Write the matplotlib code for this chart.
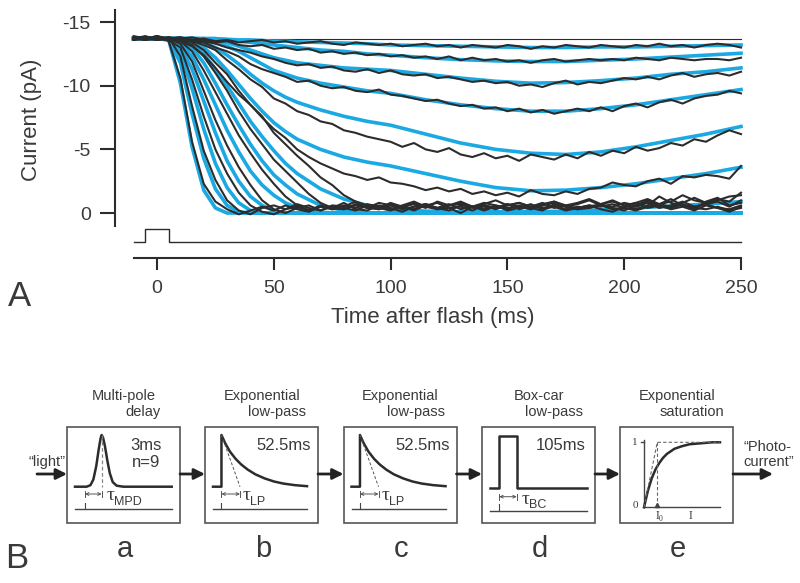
import matplotlib.pyplot as plt
from matplotlib.patches import Rectangle

plt.rcParams['font.family'] = ['Liberation Sans', 'DejaVu Sans']

# ---------------- data (panel A) ----------------
dark_current = -13.7          # pA, baseline before flash
flash_t = [-10, -5, -5, 5, 5, 250]
flash_on = [0, 0, 1, 1, 0, 0]

# model fits (blue), brightest flash first
t_fit = [-10, 0, 5, 10, 15, 20, 25, 30, 35, 40, 45, 50, 55, 60, 70, 80, 90, 100,
         115, 130, 145, 160, 175, 190, 205, 220, 235, 250]
fit_1 = [-13.7, -13.7, -13.6, -10.2, -5.2, -1.8, -0.4, 0.0, 0.0, 0.0,
         0.0, 0.0, 0.0, 0.0, 0.0, 0.0, 0.0, 0.0, 0.0, 0.0,
         0.0, 0.0, 0.0, 0.0, 0.0, 0.0, 0.0, 0.0]
fit_2 = [-13.7, -13.7, -13.6, -11.8, -7.8, -4.3, -1.9, -0.6, -0.1, 0.0,
         0.0, 0.0, 0.0, 0.0, 0.0, 0.0, 0.0, 0.0, 0.0, 0.0,
         0.0, 0.0, 0.0, 0.0, 0.0, 0.0, 0.0, 0.0]
fit_3 = [-13.7, -13.7, -13.7, -12.6, -9.8, -6.6, -3.9, -2.0, -0.8, -0.2,
         0.0, 0.0, 0.0, 0.0, 0.0, 0.0, 0.0, 0.0, 0.0, 0.0,
         0.0, 0.0, 0.0, 0.0, 0.0, 0.0, 0.0, 0.0]
fit_4 = [-13.7, -13.7, -13.7, -13.1, -11.3, -8.8, -6.3, -4.1, -2.5, -1.3,
         -0.6, -0.2, 0.0, 0.0, 0.0, 0.0, 0.0, 0.0, 0.0, 0.0,
         0.0, 0.0, 0.0, 0.0, 0.0, 0.0, 0.0, 0.0]
fit_5 = [-13.7, -13.7, -13.7, -13.4, -12.3, -10.5, -8.5, -6.5, -4.8, -3.3,
         -2.2, -1.4, -0.8, -0.4, -0.05, 0.0, 0.0, 0.0, 0.0, 0.0,
         0.0, 0.0, 0.0, 0.0, 0.0, 0.0, 0.0, 0.0]
fit_6 = [-13.7, -13.7, -13.7, -13.6, -13.0, -11.8, -10.2, -8.5, -6.9, -5.4,
         -4.1, -3.0, -2.2, -1.5, -0.6, -0.2, 0.0, 0.0, 0.0, 0.0,
         0.0, 0.0, 0.0, 0.0, 0.0, 0.0, 0.0, 0.0]
fit_7 = [-13.7, -13.7, -13.7, -13.6, -13.3, -12.5, -11.3, -10.0, -8.6, -7.2,
         -6.0, -4.9, -3.9, -3.1, -1.9, -1.1, -0.6, -0.3, -0.15, -0.1,
         -0.1, -0.1, -0.15, -0.25, -0.4, -0.55, -0.7, -0.9]
fit_8 = [-13.7, -13.7, -13.7, -13.7, -13.5, -13.0, -12.2, -11.2, -10.1, -9.0,
         -8.0, -7.1, -6.4, -5.8, -5.0, -4.4, -4.0, -3.7, -3.1, -2.5,
         -2.0, -1.75, -1.8, -2.0, -2.3, -2.7, -3.1, -3.6]
fit_9 = [-13.7, -13.7, -13.7, -13.7, -13.6, -13.4, -13.0, -12.4, -11.7, -10.9,
         -10.2, -9.6, -9.1, -8.7, -8.1, -7.6, -7.2, -6.9, -6.2, -5.5,
         -5.0, -4.7, -4.6, -4.8, -5.2, -5.7, -6.2, -6.8]
fit_10 = [-13.7, -13.7, -13.7, -13.7, -13.7, -13.6, -13.4, -13.1, -12.7, -12.2,
          -11.7, -11.2, -10.9, -10.6, -10.2, -9.9, -9.6, -9.4, -8.9, -8.5,
          -8.2, -8.0, -8.0, -8.2, -8.5, -8.9, -9.3, -9.7]
fit_11 = [-13.7, -13.7, -13.7, -13.7, -13.7, -13.7, -13.6, -13.4, -13.1, -12.8,
          -12.5, -12.2, -12.0, -11.8, -11.6, -11.4, -11.3, -11.2, -10.9, -10.6,
          -10.35, -10.2, -10.25, -10.4, -10.6, -10.9, -11.1, -11.4]
fit_12 = [-13.7, -13.7, -13.7, -13.7, -13.7, -13.7, -13.7, -13.6, -13.5, -13.4,
          -13.3, -13.2, -13.1, -13.0, -12.8, -12.7, -12.5, -12.4, -12.2, -12.05,
          -11.95, -11.9, -11.9, -12.0, -12.1, -12.25, -12.4, -12.55]
fit_13 = [-13.7, -13.7, -13.7, -13.7, -13.7, -13.7, -13.7, -13.65, -13.6, -13.6,
          -13.55, -13.5, -13.5, -13.45, -13.4, -13.35, -13.3, -13.2, -13.15, -13.1,
          -13.05, -13.0, -13.0, -13.05, -13.05, -13.1, -13.15, -13.2]

# recorded photocurrents (black), same order
t_rec = [-10, -5, 0, 5, 10, 15, 20, 25, 30, 35,
         40, 45, 50, 55, 60, 65, 70, 75, 80, 85,
         90, 95, 100, 105, 110, 115, 120, 125, 130, 135,
         140, 145, 150, 155, 160, 165, 170, 175, 180, 185,
         190, 195, 200, 205, 210, 215, 220, 225, 230, 235,
         240, 245, 250]
rec_1 = [-13.8, -13.6, -13.9, -13.5, -10.6, -5.6, -2.3, -0.9, -0.3, 0.1,
         -0.2, -0.5, -0.2, -0.6, -0.3, -0.1, -0.5, -0.4, -0.8, -0.3,
         -0.2, -0.6, -0.4, -0.1, -0.5, -0.7, -0.3, -0.4, 0.0, -0.5,
         -0.3, -0.6, -0.2, -0.4, -0.7, -0.3, -0.5, -0.2, -0.4, -0.6,
         -0.3, -0.1, -0.5, -0.8, -0.4, -0.6, -0.3, -0.5, -0.2, -0.6,
         -0.4, -0.1, -0.5]
rec_2 = [-13.7, -13.9, -13.6, -13.8, -12.3, -8.4, -4.9, -2.6, -1.0, -0.2,
         0.1, -0.4, -0.6, -0.3, -0.7, -0.4, -0.2, -0.6, -0.5, -0.9,
         -0.4, -0.3, -0.7, -0.5, -0.2, -0.6, -0.8, -0.4, -0.5, -0.2,
         -0.6, -0.4, -0.7, -0.3, -0.5, -0.8, -0.4, -0.6, -0.3, -0.5,
         -0.7, -0.4, -0.2, -0.6, -1.0, -0.5, -0.4, -0.7, -0.3, -0.9,
         -1.2, -0.6, -0.8]
rec_3 = [-13.6, -13.8, -13.7, -13.6, -13.0, -10.5, -7.6, -5.0, -3.1, -1.6,
         -0.6, -0.1, 0.1, -0.3, -0.5, -0.2, -0.6, -0.3, -0.4, -0.2,
         -0.6, -0.4, -0.2, -0.5, -0.3, -0.7, -0.4, -0.2, -0.6, -0.5,
         -0.2, -0.5, -0.3, -0.6, -0.4, -0.2, -0.7, -0.5, -0.3, -0.4,
         -0.6, -0.3, -0.4, -0.2, -0.5, -0.7, -1.1, -0.6, -0.4, -0.3,
         -0.5, -0.2, -0.4]
rec_4 = [-13.9, -13.7, -13.8, -13.7, -13.3, -11.9, -9.6, -7.3, -5.3, -3.6,
         -2.2, -1.0, -0.3, 0.0, -0.4, -0.6, -0.2, -0.5, -0.3, -0.7,
         -0.5, -0.3, -0.6, -0.4, -0.8, -0.5, -0.3, -0.6, -0.7, -0.4,
         -0.5, -0.3, -0.6, -0.8, -0.5, -0.4, -0.6, -0.3, -0.5, -0.4,
         -0.7, -1.0, -0.6, -0.5, -0.8, -0.4, -0.6, -0.9, -0.5, -0.7,
         -0.4, -0.3, -0.6]
rec_5 = [-13.7, -13.8, -13.6, -13.7, -13.5, -12.7, -11.2, -9.5, -7.8, -6.1,
         -4.7, -3.4, -2.3, -1.3, -0.6, -0.2, -0.5, -0.3, -0.6, -0.4,
         -0.7, -0.5, -0.3, -0.6, -0.9, -0.5, -0.4, -0.7, -0.3, -0.5,
         -0.8, -0.6, -0.4, -0.5, -0.3, -0.6, -0.9, -0.5, -0.4, -0.6,
         -0.5, -0.7, -0.4, -0.3, -0.6, -1.3, -0.8, -0.6, -0.5, -0.7,
         -0.9, -0.5, -1.0]
rec_6 = [-13.8, -13.6, -13.7, -13.8, -13.6, -13.2, -12.3, -11.0, -9.6, -8.0,
         -6.6, -5.4, -4.2, -3.3, -2.4, -1.5, -0.8, -0.4, -0.3, -0.6,
         -0.4, -0.8, -0.6, -0.3, -0.5, -0.7, -0.4, -0.6, -0.9, -0.5,
         -0.6, -0.4, -0.7, -0.5, -0.3, -0.6, -0.8, -0.5, -0.7, -1.0,
         -0.6, -0.5, -0.8, -0.6, -0.9, -0.7, -0.5, -0.8, -1.2, -0.8,
         -1.0, -1.3, -1.4]
rec_7 = [-13.7, -13.7, -13.9, -13.6, -13.7, -13.4, -12.8, -11.8, -10.9, -9.6,
         -8.5, -7.6, -6.3, -5.4, -4.5, -3.7, -2.8, -2.2, -1.4, -0.9,
         -0.6, -0.4, -0.8, -0.5, -0.7, -0.4, -0.9, -0.6, -0.8, -0.5,
         -0.7, -1.0, -0.6, -0.8, -0.5, -0.7, -0.9, -0.6, -0.8, -1.1,
         -0.7, -0.9, -0.6, -0.8, -1.1, -0.7, -0.9, -1.4, -1.0, -0.8,
         -1.1, -0.9, -1.6]
rec_8 = [-13.6, -13.8, -13.7, -13.6, -13.5, -13.1, -12.4, -11.4, -10.3, -9.3,
         -8.5, -7.5, -6.6, -5.9, -5.0, -4.4, -3.9, -3.5, -3.1, -2.9,
         -2.6, -2.8, -2.4, -2.3, -2.1, -1.8, -2.0, -1.7, -1.9, -1.5,
         -1.7, -1.4, -1.6, -1.3, -1.8, -1.5, -1.4, -1.7, -1.5, -1.9,
         -2.0, -2.4, -2.2, -2.1, -2.5, -2.7, -2.3, -2.9, -2.8, -3.0,
         -2.9, -2.7, -3.7]
rec_9 = [-13.7, -13.6, -13.8, -13.7, -13.6, -13.5, -13.2, -12.8, -12.0, -11.3,
         -10.5, -9.9, -9.0, -8.6, -8.0, -7.7, -7.2, -7.0, -6.5, -6.3,
         -6.0, -5.8, -5.6, -5.2, -5.5, -5.0, -4.8, -5.1, -4.6, -4.4,
         -4.7, -4.3, -4.5, -4.1, -4.6, -4.4, -4.2, -4.6, -4.3, -4.8,
         -4.5, -4.9, -4.7, -5.2, -4.9, -5.1, -5.5, -5.3, -5.8, -5.6,
         -6.1, -6.5, -6.2]
rec_10 = [-13.8, -13.7, -13.6, -13.8, -13.7, -13.5, -13.4, -13.0, -12.7, -12.3,
          -11.7, -11.3, -11.0, -10.7, -10.3, -10.4, -10.0, -9.8, -9.9, -9.6,
          -9.5, -9.7, -9.3, -9.2, -9.0, -8.8, -8.9, -8.6, -8.4, -8.5,
          -8.2, -8.3, -8.0, -8.2, -7.9, -8.1, -7.8, -8.0, -8.2, -8.0,
          -8.3, -8.0, -8.4, -8.6, -8.3, -8.7, -8.9, -8.6, -9.0, -9.2,
          -9.3, -9.6, -9.4]
rec_11 = [-13.7, -13.8, -13.6, -13.7, -13.8, -13.6, -13.5, -13.3, -13.0, -12.8,
          -12.6, -12.3, -12.1, -11.8, -11.6, -11.7, -11.4, -11.5, -11.2, -11.1,
          -11.3, -11.0, -11.2, -10.9, -10.8, -10.9, -10.6, -10.7, -10.5, -10.3,
          -10.4, -10.2, -10.3, -10.0, -10.1, -9.9, -10.2, -10.4, -10.1, -10.3,
          -10.2, -10.4, -10.6, -10.5, -10.7, -10.5, -10.8, -11.0, -10.7, -10.9,
          -11.0, -10.8, -11.1]
rec_12 = [-13.6, -13.7, -13.8, -13.6, -13.7, -13.8, -13.6, -13.4, -13.5, -13.2,
          -13.1, -13.2, -12.9, -13.0, -12.8, -12.9, -12.6, -12.7, -12.5, -12.6,
          -12.4, -12.5, -12.3, -12.4, -12.2, -12.3, -12.1, -12.3, -12.0, -12.2,
          -12.0, -12.1, -11.9, -12.0, -11.8, -12.0, -12.1, -11.9, -12.0, -12.1,
          -12.0, -12.1, -12.0, -12.2, -12.1, -12.0, -12.2, -12.1, -12.0, -12.1,
          -12.1, -12.0, -12.2]
rec_13 = [-13.8, -13.6, -13.9, -13.7, -13.8, -13.6, -13.7, -13.5, -13.6, -13.4,
          -13.5, -13.6, -13.4, -13.5, -13.3, -13.4, -13.5, -13.3, -13.2, -13.4,
          -13.3, -13.2, -13.3, -13.1, -13.2, -13.3, -13.1, -13.2, -13.0, -13.2,
          -13.1, -13.0, -13.2, -13.1, -12.9, -13.1, -13.0, -13.2, -13.1, -13.0,
          -13.2, -13.1, -13.0, -13.2, -13.1, -13.3, -13.1, -13.2, -13.0, -13.2,
          -13.3, -13.2, -13.0]

fits = [fit_1, fit_2, fit_3, fit_4, fit_5, fit_6, fit_7, fit_8, fit_9,
        fit_10, fit_11, fit_12, fit_13]
recs = [rec_1, rec_2, rec_3, rec_4, rec_5, rec_6, rec_7, rec_8, rec_9,
        rec_10, rec_11, rec_12, rec_13]

# ---------------- data (panel B) ----------------
stage_titles = [("Multi-pole", "delay"), ("Exponential", "low-pass"),
                ("Exponential", "low-pass"), ("Box-car", "low-pass"),
                ("Exponential", "saturation")]
stage_params = ["3ms\nn=9", "52.5ms", "52.5ms", "105ms", ""]
stage_letters = ["a", "b", "c", "d", "e"]
# normalised impulse-response sketches
mpd_x = [0.0, 0.12, 0.16, 0.19, 0.22, 0.245, 0.265, 0.276, 0.29, 0.31, 0.335, 0.36, 0.39, 0.43, 0.5, 1.0]
mpd_y = [0.0, 0.0, 0.03, 0.14, 0.40, 0.72, 0.94, 1.0, 0.95, 0.78, 0.50, 0.26, 0.09, 0.02, 0.0, 0.0]
lp_x = [0.0, 0.09, 0.09, 0.13, 0.18, 0.24, 0.30, 0.37, 0.45, 0.55, 0.65, 0.75, 0.87, 1.0]
lp_y = [0.0, 0.0, 1.0, 0.84, 0.68, 0.54, 0.43, 0.33, 0.24, 0.16, 0.10, 0.06, 0.03, 0.01]
bc_x = [0.0, 0.096, 0.096, 0.276, 0.276, 1.0]
bc_y = [0.0, 0.0, 1.0, 1.0, 0.0, 0.0]
sat_x = [0.0, 0.05, 0.1, 0.15, 0.2, 0.25, 0.3, 0.4, 0.5, 0.6, 0.7, 0.8, 0.9, 1.0]
sat_y = [0.0, 0.25, 0.44, 0.58, 0.68, 0.76, 0.82, 0.90, 0.94, 0.97, 0.98, 0.99, 1.0, 1.0]
sat_i0 = 0.175

BLUE = '#1ba9e3'
DARK = '#2c2c2c'
TXT = '#3a3a3a'

W, H = 800, 583
fig = plt.figure(figsize=(8, 5.83), dpi=100)


def px_rect(x0, y0, x1, y1):
    return [x0 / W, 1 - y1 / H, (x1 - x0) / W, (y1 - y0) / H]


# ---------------- panel A ----------------
ax = fig.add_axes(px_rect(110, 5, 760, 265))
ax.patch.set_visible(False)
ax.set_xlim(-20.12, 258.13)
ax.set_ylim(4.08, -16.34)

for f in fits:
    ax.plot(t_fit, f, color=BLUE, lw=2.6, zorder=2, solid_joinstyle='round')
ax.plot([-10, 250], [dark_current, dark_current], color=DARK, lw=0.8, zorder=1)
for r in recs:
    ax.plot(t_rec, r, color=DARK, lw=1.5, zorder=3, solid_joinstyle='round')

flash_y = [2.28 - 1.02 * v for v in flash_on]
ax.plot(flash_t, flash_y, color=DARK, lw=1.0)

for s in ['top', 'right']:
    ax.spines[s].set_visible(False)
ax.spines['left'].set_position(('data', -18.0))
ax.spines['left'].set_bounds(1.02, -15.95)
ax.spines['bottom'].set_position(('data', 3.53))
ax.spines['bottom'].set_bounds(-10, 250)
for s in ['left', 'bottom']:
    ax.spines[s].set_linewidth(1.5)
    ax.spines[s].set_color(DARK)
ax.set_yticks([-15, -10, -5, 0])
ax.set_yticklabels(['-15', '-10', '-5', '0'])
ax.set_xticks([0, 50, 100, 150, 200, 250])
ax.tick_params(axis='y', length=10.5, width=1.5, pad=7, labelsize=14,
               color=DARK, labelcolor=TXT)
ax.tick_params(axis='x', length=8.5, width=1.5, pad=7, labelsize=14,
               color=DARK, labelcolor=TXT)

# ---------------- overlay in pixel units ----------------
ov = fig.add_axes([0, 0, 1, 1])
ov.patch.set_visible(False)
ov.set_xlim(0, W)
ov.set_ylim(H, 0)
ov.axis('off')

ov.text(32, 120, 'Current (pA)', rotation=90, ha='center', va='center',
        fontsize=16, color=TXT)
ov.text(433, 317, 'Time after flash (ms)', ha='center', va='center',
        fontsize=16, color=TXT)
ov.text(19, 297, 'A', ha='center', va='center', fontsize=25, color=TXT)
ov.text(17, 558, 'B', ha='center', va='center', fontsize=25, color=TXT)

box_left = [67, 205, 343.5, 482, 620]
box_w, box_top, box_bot = 113, 427, 523
arrow_y = 474


def flow_arrow(x0, x1):
    ov.annotate('', xy=(x1, arrow_y), xytext=(x0, arrow_y),
                arrowprops=dict(arrowstyle='-|>', lw=2.0, color='#222222',
                                mutation_scale=16, shrinkA=0, shrinkB=0))


def span_arrow(x0, x1, y):
    ov.annotate('', xy=(x1, y), xytext=(x0, y),
                arrowprops=dict(arrowstyle='<->', lw=0.7, color='#555555',
                                mutation_scale=5, shrinkA=0, shrinkB=0))
    ov.plot([x0, x0], [y - 3, y + 3], color='#555555', lw=0.7)
    ov.plot([x1, x1], [y - 3, y + 3], color='#555555', lw=0.7)


def tau(x, y, sub):
    ov.text(x, y, 'τ', family='Liberation Serif', fontsize=14, ha='left',
            va='center', color=TXT)
    ov.text(x + 7, y + 6, sub, fontsize=9, ha='left', va='center', color=TXT)


for i, bx in enumerate(box_left):
    ov.add_patch(Rectangle((bx, box_top), box_w, box_bot - box_top, fill=False,
                           lw=1.2, ec='#555555'))
    t1, t2 = stage_titles[i]
    ov.text(bx + 57, 396, t1, ha='center', va='center', fontsize=10.5, color=TXT)
    ov.text(bx + 72 if i != 0 else bx + 76, 412, t2, ha='center', va='center',
            fontsize=10.5, color=TXT)
    ov.text(bx + 58, 549, stage_letters[i], ha='center', va='center',
            fontsize=21, color=TXT)
    if stage_params[i]:
        ov.text(bx + 79 if i > 0 else bx + 79, 446 if i > 0 else 454,
                stage_params[i], ha='center', va='center', fontsize=12,
                color=TXT, linespacing=1.1)

# a: multi-pole delay
bx = box_left[0]
x0, span, base, hgt = bx + 8, 96.7, 486.7, 51.7
ov.plot([x0 + v * span for v in mpd_x], [base - v * hgt for v in mpd_y],
        color=DARK, lw=1.8)
ov.plot([x0 + 0.276 * span] * 2, [base - hgt, base], color='#888888', lw=0.9,
        ls=(0, (3, 2)))
ov.plot([x0, x0 + span], [509.3, 509.3], color='#444444', lw=1.0)
ov.plot([bx + 18, bx + 18], [503, 509.3], color='#444444', lw=0.8)
span_arrow(bx + 18, x0 + 0.276 * span, 494)
tau(bx + 40, 496, 'MPD')

# b, c: exponential low-pass
for bx in box_left[1:3]:
    x0, span = bx + 8, 94
    ov.plot([x0 + v * span for v in lp_x], [base - v * hgt for v in lp_y],
            color=DARK, lw=1.8)
    ov.plot([x0 + 0.09 * span, bx + 35], [base - hgt, base], color='#555555',
            lw=0.7, ls=(0, (3, 2)))
    ov.plot([x0, x0 + span], [509.3, 509.3], color='#444444', lw=1.0)
    ov.plot([x0 + 0.09 * span] * 2, [503, 509.3], color='#444444', lw=0.8)
    span_arrow(x0 + 0.09 * span, bx + 35, 494)
    tau(bx + 38, 496, 'LP')

# d: box-car
bx = box_left[3]
x0, span, base_d = bx + 8, 96.7, 487.7
ov.plot([x0 + v * span for v in bc_x], [base_d - v * hgt for v in bc_y],
        color=DARK, lw=1.8)
ov.plot([x0, x0 + span], [510.7, 510.7], color='#444444', lw=1.0)
ov.plot([x0 + 0.096 * span] * 2, [504, 510.7], color='#444444', lw=0.8)
span_arrow(x0 + 0.096 * span, x0 + 0.276 * span, 496.7)
tau(bx + 40, 499, 'BC')

# e: exponential saturation
bx = box_left[4]
ox, oy, sw, sh = bx + 24, 507.3, 76, 65
ov.plot([ox, ox + sw], [oy, oy], color='#444444', lw=1.0)
ov.plot([ox, ox], [oy, oy - sh - 2], color='#444444', lw=1.0)
ov.plot([ox - 3, ox], [oy - sh, oy - sh], color='#444444', lw=1.0)
ov.plot([ox + v * sw for v in sat_x], [oy - v * sh for v in sat_y],
        color=DARK, lw=1.8)
ix = ox + sat_i0 * sw
ov.plot([ox, ix, ox + sw], [oy, oy - sh, oy - sh], color='#666666', lw=0.8,
        ls=(0, (3, 2)))
ov.plot([ix, ix], [oy - sh, oy], color='#666666', lw=0.8, ls=(0, (3, 2)))
ov.plot([ix], [oy - 2], marker='^', ms=3, color='#444444')
ov.text(ox - 6, oy - sh, '1', family='Liberation Serif', fontsize=8,
        ha='right', va='center', color=TXT)
ov.text(ox - 6, oy - 2, '0', family='Liberation Serif', fontsize=8,
        ha='right', va='center', color=TXT)
ov.text(ix, oy + 9, 'I', family='Liberation Serif', fontsize=8.5,
        ha='center', va='center', color=TXT)
ov.text(ix + 3.5, oy + 12, '0', family='Liberation Serif', fontsize=5.5,
        ha='center', va='center', color=TXT)
ov.text(ox + 46, oy + 9, 'I', family='Liberation Serif', fontsize=8.5,
        ha='center', va='center', color=TXT)

# flow arrows
flow_arrow(37, box_left[0])
for i in range(4):
    flow_arrow(box_left[i] + box_w, box_left[i + 1])
flow_arrow(box_left[4] + box_w, 773)
ov.text(47, 462, '\u201clight\u201d', ha='center', va='center', fontsize=10.5,
        color=TXT)
ov.text(792, 447, '\u201cPhoto-', ha='right', va='center', fontsize=10.5,
        color=TXT)
ov.text(794, 462, 'current\u201d', ha='right', va='center', fontsize=10.5,
        color=TXT)

fig.savefig('out.png', dpi=100)
